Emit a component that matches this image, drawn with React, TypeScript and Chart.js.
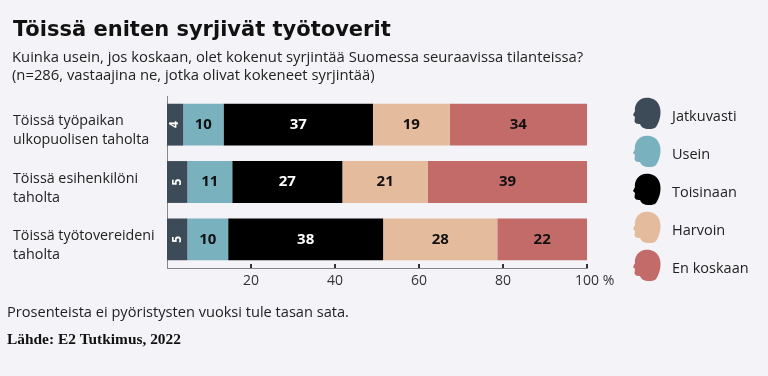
import React, { useEffect, useRef } from 'react';
import { Chart, registerables } from 'chart.js';

Chart.register(...registerables);

const categories: string[][] = [
  ['Töissä työpaikan', 'ulkopuolisen taholta'],
  ['Töissä esihenkilöni', 'taholta'],
  ['Töissä työtovereideni', 'taholta'],
];
const seriesNames = ['Jatkuvasti', 'Usein', 'Toisinaan', 'Harvoin', 'En koskaan'];
const jatkuvasti = [4, 5, 5];
const usein = [10, 11, 10];
const toisinaan = [37, 27, 38];
const harvoin = [19, 21, 28];
const enKoskaan = [34, 39, 22];
const xTicks = [20, 40, 60, 80, 100];
const percentSuffix = ' %';

const titleText = 'Töissä eniten syrjivät työtoverit';
const subtitle1 = 'Kuinka usein, jos koskaan, olet kokenut syrjintää Suomessa seuraavissa tilanteissa?';
const subtitle2 = '(n=286, vastaajina ne, jotka olivat kokeneet syrjintää)';
const footnote = 'Prosenteista ei pyöristysten vuoksi tule tasan sata.';
const source = 'Lähde: E2 Tutkimus, 2022';

const colors = ['#3d4b58', '#7ab1be', '#000000', '#e4bb9c', '#c36b68'];
const labelColors = ['#ffffff', '#111111', '#ffffff', '#111111', '#111111'];

const SANS = '"Open Sans", "Noto Sans", sans-serif';

export default function App() {
  const ref = useRef<HTMLCanvasElement | null>(null);

  useEffect(() => {
    const canvas = ref.current;
    if (!canvas) return;
    const series = [jatkuvasti, usein, toisinaan, harvoin, enKoskaan];
    const rowSums = categories.map((_, r) => series.reduce((s, arr) => s + arr[r], 0));

    const datasets = series.map((arr, i) => ({
      label: seriesNames[i],
      data: arr.map((v, r) => (v / rowSums[r]) * 100),
      rawValues: arr,
      backgroundColor: colors[i],
      borderWidth: 0,
      barPercentage: 1,
      categoryPercentage: 0.73,
    }));

    const bgPlugin = {
      id: 'bg',
      beforeDraw(chart: any) {
        const { ctx, width, height } = chart;
        ctx.save();
        ctx.fillStyle = '#f4f3f8';
        ctx.fillRect(0, 0, width, height);
        ctx.restore();
      },
    };

    const drawHead = (ctx: CanvasRenderingContext2D, cx: number, cy: number, color: string) => {
      ctx.save();
      ctx.fillStyle = color;
      ctx.beginPath();
      // head profile facing left
      ctx.moveTo(cx + 9, cy + 14);
      ctx.bezierCurveTo(cx + 15, cy + 6, cx + 17, cy - 12, cx + 3, cy - 15);
      ctx.bezierCurveTo(cx - 8, cy - 17, cx - 13, cy - 8, cx - 12, cy - 2);
      ctx.lineTo(cx - 14, cy + 2);
      ctx.lineTo(cx - 12, cy + 4);
      ctx.lineTo(cx - 12.5, cy + 8);
      ctx.bezierCurveTo(cx - 12, cy + 11, cx - 9, cy + 11, cx - 7, cy + 11);
      ctx.bezierCurveTo(cx - 6, cy + 14, cx - 3, cy + 16, cx + 2, cy + 16);
      ctx.bezierCurveTo(cx + 5, cy + 16, cx + 8, cy + 15.5, cx + 9, cy + 14);
      ctx.closePath();
      ctx.fill();
      ctx.restore();
    };

    const overlayPlugin = {
      id: 'overlay',
      afterDraw(chart: any) {
        const ctx: CanvasRenderingContext2D = chart.ctx;
        const area = chart.chartArea;
        ctx.save();
        // Title and subtitles
        ctx.textBaseline = 'alphabetic';
        ctx.textAlign = 'left';
        ctx.fillStyle = '#111111';
        ctx.font = 'bold 21px "DejaVu Sans", sans-serif';
        ctx.fillText(titleText, 13, 36);
        ctx.fillStyle = '#222222';
        ctx.font = `14.8px ${SANS}`;
        ctx.fillText(subtitle1, 12, 62);
        ctx.fillText(subtitle2, 12, 80);
        // Footnotes
        ctx.font = `14.6px ${SANS}`;
        ctx.fillText(footnote, 7, 317);
        ctx.fillStyle = '#111111';
        ctx.font = 'bold 15.4px "Liberation Serif", "DejaVu Serif", serif';
        ctx.fillText(source, 7, 344);

        // tick marks pointing up
        const xs = chart.scales.x;
        ctx.strokeStyle = '#333333';
        ctx.lineWidth = 2;
        xTicks.forEach((v) => {
          const px = xs.getPixelForValue(v);
          ctx.beginPath();
          ctx.moveTo(px, area.bottom - 4);
          ctx.lineTo(px, area.bottom);
          ctx.stroke();
        });
        // percent suffix after the last tick label
        const lastX = xs.getPixelForValue(xTicks[xTicks.length - 1]);
        ctx.font = `14px ${SANS}`;
        const w = ctx.measureText(String(xTicks[xTicks.length - 1])).width;
        ctx.fillStyle = '#333333';
        ctx.textAlign = 'left';
        ctx.textBaseline = 'middle';
        ctx.fillText(percentSuffix, lastX + w / 2, area.bottom + 13);

        // data labels
        chart.data.datasets.forEach((ds: any, di: number) => {
          const meta = chart.getDatasetMeta(di);
          meta.data.forEach((el: any, idx: number) => {
            const cx = (el.x + el.base) / 2;
            const cy = el.y;
            const val = String(ds.rawValues[idx]);
            ctx.fillStyle = labelColors[di];
            ctx.textAlign = 'center';
            ctx.textBaseline = 'middle';
            if (di === 0) {
              ctx.save();
              ctx.translate(cx, cy);
              ctx.rotate(-Math.PI / 2);
              ctx.font = `bold 12px ${SANS}`;
              ctx.fillText(val, 0, 0);
              ctx.restore();
            } else {
              ctx.font = `bold 15px ${SANS}`;
              ctx.fillText(val, cx, cy);
            }
          });
        });

        // legend
        chart.data.datasets.forEach((ds: any, i: number) => {
          const cy = 117 + 38 * i;
          drawHead(ctx, 647, cy - 4, ds.backgroundColor);
          ctx.fillStyle = '#222222';
          ctx.textAlign = 'left';
          ctx.textBaseline = 'middle';
          ctx.font = `14.5px ${SANS}`;
          ctx.fillText(ds.label, 672, cy);
        });
        ctx.restore();
      },
    };

    const chart = new Chart(canvas, {
      type: 'bar',
      data: { labels: categories, datasets: datasets as any },
      options: {
        indexAxis: 'y',
        animation: false,
        responsive: false,
        maintainAspectRatio: false,
        layout: { padding: { left: 13, top: 96, right: 181, bottom: 84 } },
        plugins: {
          legend: { display: false },
          tooltip: { enabled: false },
          title: { display: false },
        },
        scales: {
          x: {
            stacked: true,
            min: 0,
            max: 100,
            grid: { display: false, drawTicks: false },
            border: { display: true, color: '#888888', width: 1 },
            afterBuildTicks: (scale: any) => {
              scale.ticks = xTicks.map((v) => ({ value: v }));
            },
            afterFit: (scale: any) => {
              scale.height = 24;
            },
            ticks: {
              padding: 5,
              color: '#333333',
              font: { family: SANS, size: 14 },
              callback: (v: any) => String(v),
            },
          },
          y: {
            stacked: true,
            grid: { display: false, drawTicks: false },
            border: { display: true, color: '#888888', width: 1 },
            afterFit: (scale: any) => {
              scale.width = 154;
            },
            ticks: {
              crossAlign: 'far',
              padding: 0,
              labelOffset: 6,
              color: '#222222',
              font: { family: SANS, size: 14.3, lineHeight: 1.33 },
            },
          },
        },
      },
      plugins: [bgPlugin, overlayPlugin],
    } as any);

    return () => chart.destroy();
  }, []);

  return (
    <div style={{ position: 'fixed', left: 0, top: 0, width: 768, height: 376 }}>
      <canvas ref={ref} width={768} height={376} style={{ display: 'block', width: 768, height: 376 }} />
    </div>
  );
}
